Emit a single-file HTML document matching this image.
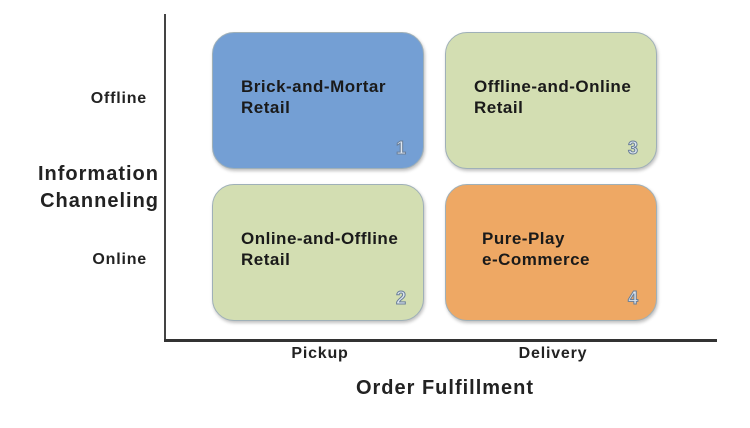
<!DOCTYPE html>
<html><head><style>
body{margin:0;width:750px;height:428px;background:#fff;position:relative;overflow:hidden;font-family:"Liberation Sans",sans-serif;font-weight:bold;color:#222}
div{position:absolute}
.box{border-radius:22px;border:1.5px solid #9fb0b8;box-shadow:1px 2px 3px rgba(0,0,0,.25)}
.t{font-size:17px;line-height:21px;color:#1a1a1a;letter-spacing:.5px;white-space:nowrap}
.n{font-size:18px;color:#dde6f0;-webkit-text-stroke:1px #6a7f99}
.r{text-align:right;white-space:nowrap}
</style></head><body>
<div style="left:164px;top:14px;width:2px;height:328px;background:#444"></div>
<div style="left:164px;top:339px;width:553px;height:3px;background:#333"></div>
<div class="box" style="left:212px;top:32px;width:210px;height:135px;background:#749fd4"></div>
<div class="box" style="left:445px;top:32px;width:210px;height:135px;background:#d3deb2"></div>
<div class="box" style="left:212px;top:184px;width:210px;height:135px;background:#d3deb2"></div>
<div class="box" style="left:445px;top:184px;width:210px;height:135px;background:#eea864"></div>
<div class="t" style="left:241px;top:76px">Brick-and-Mortar<br>Retail</div>
<div class="t" style="left:474px;top:76px">Offline-and-Online<br>Retail</div>
<div class="t" style="left:241px;top:228px">Online-and-Offline<br>Retail</div>
<div class="t" style="left:482px;top:228px">Pure-Play<br>e-Commerce</div>
<div class="n" style="left:396px;top:138px">1</div>
<div class="n" style="left:628px;top:138px">3</div>
<div class="n" style="left:396px;top:288px">2</div>
<div class="n" style="left:628px;top:288px">4</div>
<div class="r" style="left:20px;width:127px;top:90px;font-size:16px;letter-spacing:.8px">Offline</div>
<div class="r" style="left:20px;width:127px;top:251px;font-size:16px;letter-spacing:.8px">Online</div>
<div class="r" style="left:10px;width:149px;top:161px;font-size:20px;line-height:27px;letter-spacing:1px">Information<br>Channeling</div>
<div style="left:260px;width:120px;top:345px;font-size:16px;text-align:center;letter-spacing:.8px">Pickup</div>
<div style="left:493px;width:120px;top:345px;font-size:16px;text-align:center;letter-spacing:.8px">Delivery</div>
<div style="left:320px;width:250px;top:377px;font-size:20px;text-align:center;letter-spacing:1px">Order Fulfillment</div>
</body></html>
